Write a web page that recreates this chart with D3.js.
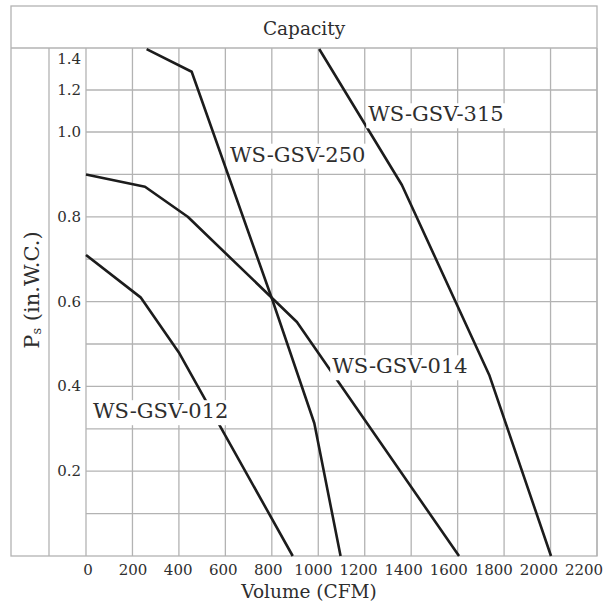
<!DOCTYPE html>
<html>
<head>
<meta charset="utf-8">
<script src="https://cdn.jsdelivr.net/npm/d3@7"></script>
<style>
  html, body { margin: 0; padding: 0; background: #fff; }
  svg { display: block; }
  text { font-family: "DejaVu Serif", serif; fill: #2e2e2e; }
</style>
</head>
<body>
<svg id="chart" width="614" height="606"></svg>
<script>
// ---- data ----
const seriesNames = ["WS-GSV-012", "WS-GSV-014", "WS-GSV-250", "WS-GSV-315"];
const gsv012 = [[0, 0.71], [235, 0.61], [402, 0.478], [890, 0]];
const gsv014 = [[0, 0.90], [254, 0.871], [438, 0.80], [908, 0.552], [1606, 0]];
const gsv250 = [[261, 1.46], [455, 1.316], [801, 0.606], [983, 0.313], [1096, 0]];
const gsv315 = [[1004, 1.46], [1360, 0.875], [1736, 0.427], [2002, 0]];
const xTicks = [0, 200, 400, 600, 800, 1000, 1200, 1400, 1600, 1800, 2000, 2200];
const yTicks = [0.2, 0.4, 0.6, 0.8, 1.0, 1.2, 1.4];
const yGrid = [0.1, 0.2, 0.3, 0.4, 0.5, 0.6, 0.7, 0.8, 0.9, 1.0, 1.2];
const title = "Capacity";
const xTitle = "Volume (CFM)";

// ---- layout ----
const svg = d3.select("#chart");
const frame = { left: 11, top: 6, right: 597, bottom: 556 };
const titleBottom = 48;
const axisDivider = 49;
const plot = { left: 86, right: 597, top: 48, bottom: 556 };

const x = d3.scaleLinear().domain([0, 2200]).range([plot.left, plot.right]);
// tick labels in the original sit on a slightly tighter spacing than the grid
const xLabel = d3.scaleLinear().domain([0, 2200]).range([88, 584]);
const y = d3.scaleLinear().domain([0, 1.0, 1.2, 1.4]).range([plot.bottom, 132, 90, 58.5]);

const gridColor = "#b3b3b3";

// gridlines
const grid = svg.append("g");
grid.selectAll("line.v").data(xTicks).join("line")
  .attr("x1", d => x(d)).attr("x2", d => x(d))
  .attr("y1", plot.top).attr("y2", plot.bottom)
  .attr("stroke", gridColor).attr("stroke-width", 1.3);
grid.selectAll("line.h").data(yGrid).join("line")
  .attr("x1", plot.left).attr("x2", plot.right)
  .attr("y1", d => y(d)).attr("y2", d => y(d))
  .attr("stroke", gridColor).attr("stroke-width", 1.3);

// frame
svg.append("rect")
  .attr("x", frame.left).attr("y", frame.top)
  .attr("width", frame.right - frame.left).attr("height", frame.bottom - frame.top)
  .attr("fill", "none").attr("stroke", gridColor).attr("stroke-width", 1.3);
svg.append("line").attr("x1", frame.left).attr("x2", frame.right)
  .attr("y1", titleBottom).attr("y2", titleBottom)
  .attr("stroke", gridColor).attr("stroke-width", 1.3);
svg.append("line").attr("x1", axisDivider).attr("x2", axisDivider)
  .attr("y1", titleBottom).attr("y2", frame.bottom)
  .attr("stroke", gridColor).attr("stroke-width", 1.3);

// title
svg.append("text").attr("x", 304).attr("y", 35)
  .attr("text-anchor", "middle").attr("font-size", 18.5).text(title);

// x tick labels
svg.append("g").selectAll("text").data(xTicks).join("text")
  .attr("x", d => xLabel(d)).attr("y", 575)
  .attr("text-anchor", "middle").attr("font-size", 15)
  .text(d => d);

// y tick labels
svg.append("g").selectAll("text").data(yTicks).join("text")
  .attr("x", 81).attr("y", d => y(d))
  .attr("text-anchor", "end").attr("dominant-baseline", "central")
  .attr("font-size", 15)
  .text(d => d.toFixed(1));

// axis titles
svg.append("text").attr("x", 309).attr("y", 598)
  .attr("text-anchor", "middle").attr("font-size", 18.5).text(xTitle);

const yt = svg.append("text")
  .attr("transform", "translate(39,290) rotate(-90)")
  .attr("text-anchor", "middle").attr("font-size", 21);
yt.append("tspan").text("P");
yt.append("tspan").attr("font-size", 13).attr("dy", 2).text("s");
yt.append("tspan").attr("dy", -2).text(" (in.W.C.)");

// curves
const line = d3.line().x(d => x(d[0])).y(d => y(d[1]));
const allSeries = [gsv012, gsv014, gsv250, gsv315];
svg.append("g").selectAll("path").data(allSeries).join("path")
  .attr("d", line)
  .attr("fill", "none").attr("stroke", "#1c1c1c")
  .attr("stroke-width", 2.6).attr("stroke-linejoin", "round");

// series labels with white boxes (anchors in data units)
const labelAnchors = [[30, 0.325], [1060, 0.431], [620, 0.93], [1215, 1.051]];
const lg = svg.append("g");
seriesNames.forEach((name, i) => {
  const g = lg.append("g");
  const t = g.append("text")
    .attr("x", x(labelAnchors[i][0])).attr("y", y(labelAnchors[i][1]))
    .attr("font-size", 21).text(name);
  const bb = t.node().getBBox();
  g.insert("rect", "text")
    .attr("x", bb.x - 2).attr("y", bb.y + 1)
    .attr("width", bb.width + 4).attr("height", bb.height + 1)
    .attr("fill", "#fff");
});
</script>
</body>
</html>
